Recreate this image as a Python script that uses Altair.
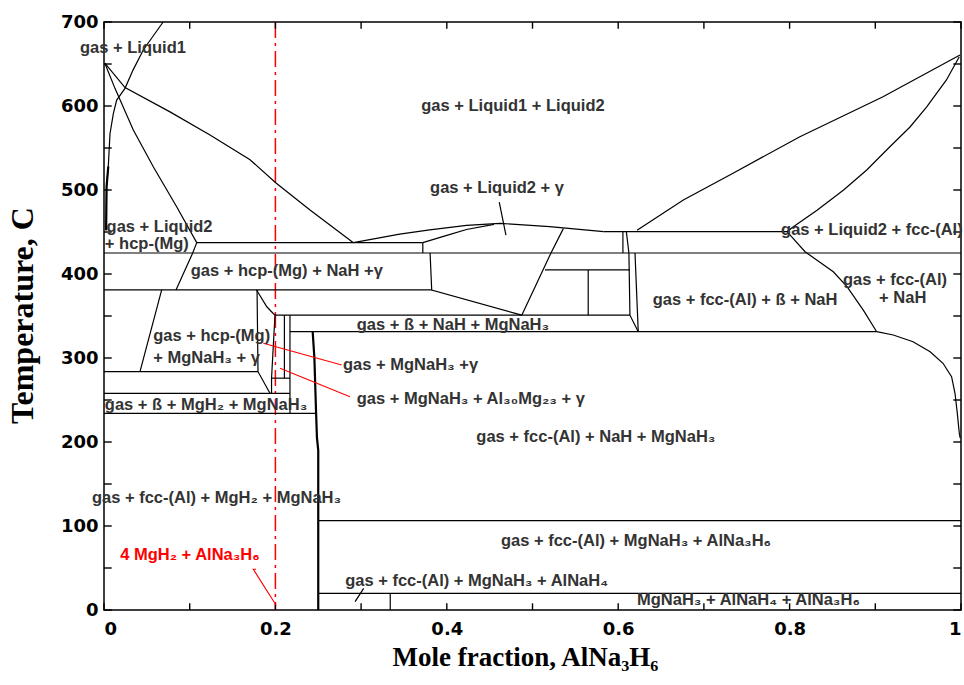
import altair as alt
import pandas as pd

# ---------------- phase-boundary polylines: (mole fraction AlNa3H6, T in C) ----------------
liquid1_curve = [(0.069, 700), (0.046, 667), (0.034, 643), (0.0245, 621), (0.0148, 607),
                 (0.0109, 591), (0.007, 567), (0.005, 528), (0.003, 504), (0.0025, 452)]
mg_liquidus = [(0.001, 651), (0.0245, 622), (0.077, 593), (0.1237, 565.5), (0.1704, 536),
               (0.2007, 508.3), (0.2404, 476.2), (0.291, 437.3)]
hcp_boundary = [(0.001, 651), (0.0128, 621), (0.0342, 571.4), (0.0575, 527.7), (0.0848, 480),
                (0.1082, 437.3), (0.1035, 425), (0.084, 381)]
hcp_lower = [(0.0673, 381), (0.042, 283.7)]
dome = [(0.291, 437.3), (0.345, 447.5), (0.38, 452.5), (0.423, 458), (0.462, 460.3),
        (0.52, 456.5), (0.583, 450.4)]
dome_inner = [(0.372, 437.3), (0.40, 446), (0.423, 453), (0.455, 459)]
dome_right = [(0.536, 454), (0.522, 426), (0.4875, 351)]
al_liquidus = [(0.622, 452), (0.676, 488), (0.734, 520), (0.812, 563.5), (0.909, 611), (0.9988, 660.7)]
al_solidus = [(0.998, 658.7), (0.983, 631), (0.960, 599), (0.9405, 575), (0.917, 551.5),
              (0.890, 523.8), (0.863, 500), (0.832, 476), (0.804, 456), (0.797, 450.4),
              (0.818, 426.5), (0.851, 402.7), (0.867, 384.9), (0.886, 357), (0.9016, 331.3)]
al_solvus = [(0.9016, 331.3), (0.921, 327.4), (0.944, 319.4), (0.964, 307.5), (0.979, 293.7),
             (0.989, 277.7), (0.993, 258), (0.9957, 234), (0.998, 210.4), (0.999, 205)]

h437 = [(0.1082, 437.3), (0.372, 437.3)]
h425 = [(0.0, 425), (1.0, 425)]
h450 = [(0.583, 450.4), (0.797, 450.4)]
h381 = [(0.0, 381), (0.3824, 381)]
h405 = [(0.5146, 404.8), (0.6137, 404.8)]
h351 = [(0.1995, 351), (0.6137, 351)]
h331 = [(0.217, 331.3), (0.9016, 331.3)]
h284 = [(0.0, 283.7), (0.1797, 283.7)]
h276 = [(0.1955, 276), (0.217, 276)]
h258 = [(0.0, 258), (0.217, 258)]
h234 = [(0.0, 234), (0.2475, 234)]
h106 = [(0.25, 106.3), (1.0, 106.3)]
h20 = [(0.25, 19.8), (1.0, 19.8)]

v372 = [(0.372, 437.3), (0.372, 425)]
v380 = [(0.3805, 425), (0.3824, 381), (0.4875, 351)]
v565 = [(0.565, 404.8), (0.565, 351)]
v605 = [(0.6055, 450.4), (0.6055, 425)]
v610 = [(0.6095, 450.4), (0.6125, 425), (0.6137, 351), (0.6234, 331.3)]
v620 = [(0.6196, 425), (0.6234, 331.3)]
v179 = [(0.1786, 381), (0.1797, 283.7), (0.1937, 258)]
d178 = [(0.178, 381), (0.19, 361), (0.1975, 353), (0.1995, 351)]
v196 = [(0.1995, 351), (0.1955, 276), (0.1955, 258)]
v2105 = [(0.2105, 351), (0.2105, 276)]
v217 = [(0.217, 351), (0.217, 234)]
v250 = [(0.2435, 331.3), (0.2455, 300), (0.2475, 234), (0.2485, 205), (0.25, 190), (0.25, 0)]
v334 = [(0.334, 0), (0.334, 19.8)]
pointer_gamma = [(0.4612, 485.5), (0.469, 446.4)]
pointer_alnah4 = [(0.303, 25.8), (0.293, 9.9)]

black_lines = [liquid1_curve, mg_liquidus, hcp_boundary, hcp_lower, dome, dome_inner, dome_right,
               al_liquidus, al_solidus, al_solvus, h437, h425, h450, h381, h405, h351, h331,
               h284, h276, h258, h234, h106, h20, v372, v380, v565, v605, v610, v620, v179,
               d178, v196, v2105, v217, v334, pointer_gamma, pointer_alnah4]
thick_lines = [v250, liquid1_curve[-3:]]

# red annotation pointers
red_ptr1 = [(0.1859, 317.5), (0.2773, 291.7)]
red_ptr2 = [(0.2054, 287.7), (0.287, 254)]
red_ptr3 = [(0.1775, 48.5), (0.1742, 48.5), (0.2007, 6)]
red_lines = [red_ptr1, red_ptr2, red_ptr3]
composition_x = [0.2]

# ---------------- region labels ----------------
labels_center = [
    (0.0338, 669, "gas + Liquid1"),
    (0.4772, 600, "gas + Liquid1 + Liquid2"),
    (0.4586, 502.4, "gas + Liquid2 + γ"),
    (0.574, 206, "gas + fcc-(Al) + NaH + MgNaH₃"),
    (0.1313, 133.3, "gas + fcc-(Al) + MgH₂ + MgNaH₃"),
    (0.748, 369, "gas + fcc-(Al) + ß + NaH"),
    (0.923, 393, "gas + fcc-(Al)"),
    (0.932, 371.4, "+ NaH"),
    (0.896, 452.4, "gas + Liquid2 + fcc-(Al)"),
    (0.6208, 82.1, "gas + fcc-(Al) + MgNaH₃ + AlNa₃H₆"),
    (0.4348, 34.5, "gas + fcc-(Al) + MgNaH₃ + AlNaH₄"),
    (0.752, 11.9, "MgNaH₃ + AlNaH₄ + AlNa₃H₆"),
]
labels_left = [
    (0.003, 456.3, "gas + Liquid2"),
    (0.001, 435.7, "+ hcp-(Mg)"),
    (0.1012, 404, "gas + hcp-(Mg)  + NaH +γ"),
    (0.0575, 326, "gas + hcp-(Mg)"),
    (0.0575, 299.6, "+ MgNaH₃ + γ"),
    (0.2949, 339.3, "gas + ß + NaH + MgNaH₃"),
    (0.2789, 291.7, "gas + MgNaH₃ +γ"),
    (0.2949, 251, "gas + MgNaH₃ + Al₃₀Mg₂₃ + γ"),
    (0.001, 244, "gas + ß + MgH₂ + MgNaH₃"),
]
labels_red = [(0.1003, 65.5, "4 MgH₂ + AlNa₃H₆")]

x_ticks = [0.0, 0.1, 0.2, 0.3, 0.4, 0.5, 0.6, 0.7, 0.8, 0.9, 1.0]
y_ticks = [0, 50, 100, 150, 200, 250, 300, 350, 400, 450, 500, 550, 600, 650, 700]
x_labels = [0, 0.2, 0.4, 0.6, 0.8, 1]
y_labels = [0, 100, 200, 300, 400, 500, 600, 700]
TICK_T = 8        # inward tick length in degrees (~7 px)
TICK_X = 0.009    # inward tick length in mole fraction (~8 px)


def lines_frame(polylines):
    rows = []
    for s, pts in enumerate(polylines):
        for i, (xv, tv) in enumerate(pts):
            rows.append({"seg": s, "i": i, "x": xv, "T": tv})
    return pd.DataFrame(rows)


def labels_frame(items):
    return pd.DataFrame([{"x": a, "T": b, "label": c} for a, b, c in items])


tick_lines = ([[(v, 0), (v, TICK_T)] for v in x_ticks]
              + [[(v, 700), (v, 700 - TICK_T)] for v in x_ticks]
              + [[(0, t), (TICK_X, t)] for t in y_ticks]
              + [[(1, t), (1 - TICK_X, t)] for t in y_ticks])

W, H = 857, 588
xs = alt.Scale(domain=[0, 1], nice=False, zero=False)
ys = alt.Scale(domain=[0, 700], nice=False)

x_enc = alt.X("x:Q", scale=xs,
              axis=alt.Axis(values=x_labels, format="~g", title="Mole fraction, AlNa₃H₆",
                            titleX=421, titleY=47, titleBaseline="middle", titleFontSize=27))
y_enc = alt.Y("T:Q", scale=ys,
              axis=alt.Axis(values=y_labels, title="Temperature, C", titleFontSize=32,
                            titleX=-82, titleY=293, titleBaseline="middle", titleAngle=270))

black = alt.Chart(lines_frame(black_lines)).mark_line(color="black", strokeWidth=1.2).encode(
    x=x_enc, y=y_enc, detail="seg:N", order="i:Q")
thick = alt.Chart(lines_frame(thick_lines)).mark_line(color="black", strokeWidth=2.2).encode(
    x=x_enc, y=y_enc, detail="seg:N", order="i:Q")
ticks = alt.Chart(lines_frame(tick_lines)).mark_line(color="black", strokeWidth=1.4).encode(
    x=x_enc, y=y_enc, detail="seg:N", order="i:Q")
red = alt.Chart(lines_frame(red_lines)).mark_line(color="#ff0000", strokeWidth=1.1).encode(
    x=x_enc, y=y_enc, detail="seg:N", order="i:Q")
dashdot = alt.Chart(pd.DataFrame({"x": composition_x})).mark_rule(
    color="#ff0000", strokeWidth=1.5, strokeDash=[16, 5, 3, 5]).encode(x=x_enc)

font_kw = dict(font="Liberation Sans", fontWeight="bold", fontSize=16.5, baseline="middle")
txt_c = alt.Chart(labels_frame(labels_center)).mark_text(align="center", color="#333333", **font_kw).encode(
    x=x_enc, y=y_enc, text="label:N")
txt_l = alt.Chart(labels_frame(labels_left)).mark_text(align="left", color="#333333", **font_kw).encode(
    x=x_enc, y=y_enc, text="label:N")
txt_r = alt.Chart(labels_frame(labels_red)).mark_text(align="center", color="#ff0000", **font_kw).encode(
    x=x_enc, y=y_enc, text="label:N")

chart = alt.layer(dashdot, black, thick, ticks, red, txt_c, txt_l, txt_r).properties(
    width=W, height=H,
    autosize=alt.AutoSizeParams(type="none"),
    padding={"left": 104, "top": 22, "right": 3, "bottom": 75},
    background="white",
).configure_view(stroke="black", strokeWidth=1.5).configure_axis(
    ticks=False, grid=False, domain=False,
    labelFont="DejaVu Sans", labelFontWeight="bold", labelFontSize=18, labelColor="black",
    titleFont="Liberation Serif", titleFontWeight="bold", titleColor="black",
).configure_axisX(labelPadding=10).configure_axisY(labelPadding=6)

chart.save("out.html", embed_options={"renderer": "svg", "actions": False})
